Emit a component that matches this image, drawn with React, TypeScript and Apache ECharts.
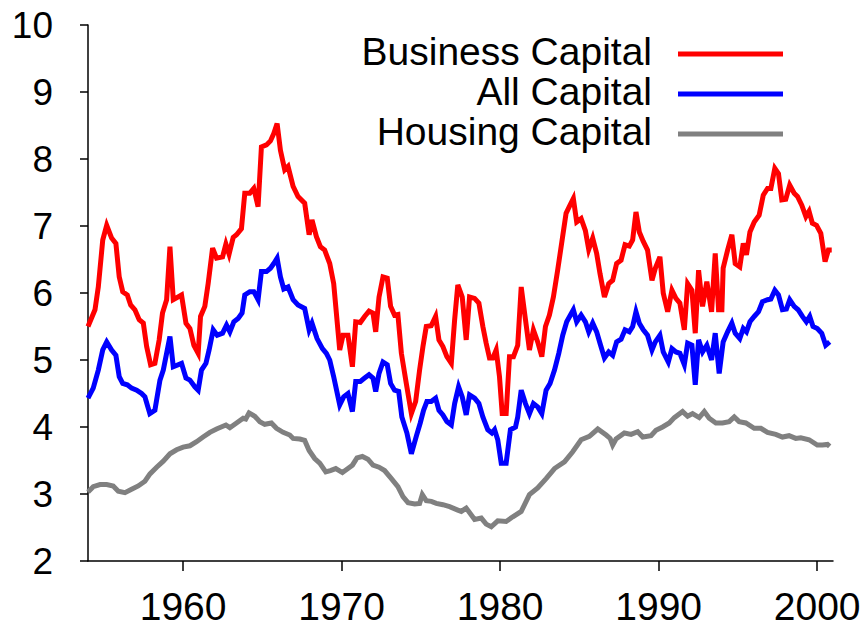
import React, { useEffect, useRef } from "react";
import * as echarts from "echarts";

// [year, value] pairs
const businessCapital: [number, number][] = [
  [1954.0, 5.5], [1954.44, 5.75], [1954.65, 6.09], [1954.93, 6.79], [1955.18, 7.01], [1955.49, 6.82],
  [1955.76, 6.74], [1955.97, 6.24], [1956.19, 6.02], [1956.48, 5.97], [1956.69, 5.82], [1956.96, 5.75],
  [1957.23, 5.6], [1957.49, 5.55], [1957.7, 5.2], [1957.95, 4.93], [1958.22, 4.95], [1958.49, 5.3],
  [1958.7, 5.7], [1958.96, 5.9], [1959.17, 6.69], [1959.38, 5.9], [1959.9, 5.97], [1960.18, 5.55],
  [1960.43, 5.47], [1960.68, 5.22], [1960.95, 5.1], [1961.1, 5.65], [1961.37, 5.8], [1961.58, 6.14],
  [1961.86, 6.67], [1962.11, 6.52], [1962.49, 6.54], [1962.7, 6.73], [1962.9, 6.58], [1963.16, 6.83],
  [1963.37, 6.87], [1963.68, 6.96], [1963.89, 7.49], [1964.21, 7.49], [1964.46, 7.56], [1964.73, 7.29],
  [1964.94, 8.18], [1965.26, 8.21], [1965.51, 8.27], [1965.72, 8.38], [1965.93, 8.53], [1966.14, 8.13],
  [1966.41, 7.84], [1966.62, 7.89], [1966.94, 7.59], [1967.25, 7.44], [1967.67, 7.34], [1967.95, 6.87],
  [1968.13, 7.09], [1968.41, 6.84], [1968.66, 6.69], [1968.93, 6.64], [1969.25, 6.44], [1969.5, 6.14],
  [1969.88, 5.15], [1970.09, 5.37], [1970.4, 5.37], [1970.68, 4.9], [1970.89, 5.57], [1971.18, 5.56],
  [1971.45, 5.65], [1971.73, 5.73], [1971.98, 5.7], [1972.15, 5.42], [1972.36, 5.94], [1972.61, 6.24],
  [1972.88, 6.22], [1973.09, 5.8], [1973.34, 5.67], [1973.55, 5.68], [1973.77, 5.1], [1974.08, 4.65],
  [1974.4, 4.2], [1974.67, 4.38], [1974.92, 4.85], [1975.13, 5.2], [1975.34, 5.5], [1975.65, 5.51],
  [1975.93, 5.65], [1976.14, 5.3], [1976.39, 5.2], [1976.64, 5.05], [1976.92, 4.95], [1977.13, 5.6],
  [1977.33, 6.12], [1977.61, 5.94], [1977.86, 5.3], [1978.07, 5.94], [1978.39, 5.92], [1978.66, 5.85],
  [1978.91, 5.5], [1979.12, 5.25], [1979.33, 5.03], [1979.54, 5.03], [1979.75, 5.15], [1979.96, 4.75],
  [1980.13, 4.2], [1980.38, 4.2], [1980.59, 5.05], [1980.84, 5.05], [1981.11, 5.22], [1981.33, 6.09],
  [1981.6, 5.6], [1981.85, 5.15], [1982.1, 5.45], [1982.37, 5.27], [1982.63, 5.05], [1982.86, 5.5],
  [1983.11, 5.67], [1983.36, 5.94], [1983.63, 6.34], [1983.91, 6.79], [1984.16, 7.19], [1984.41, 7.31],
  [1984.62, 7.41], [1984.83, 7.06], [1985.11, 7.11], [1985.38, 6.93], [1985.59, 6.65], [1985.84, 6.82],
  [1986.09, 6.59], [1986.3, 6.29], [1986.58, 5.94], [1986.85, 6.14], [1987.1, 6.19], [1987.35, 6.44],
  [1987.63, 6.49], [1987.88, 6.72], [1988.15, 6.7], [1988.36, 6.79], [1988.57, 7.21], [1988.78, 6.91],
  [1989.03, 6.77], [1989.3, 6.64], [1989.58, 6.19], [1989.79, 6.37], [1990.08, 6.54], [1990.29, 6.0],
  [1990.57, 5.72], [1990.84, 6.04], [1991.09, 5.92], [1991.34, 5.85], [1991.62, 5.45], [1991.83, 6.14],
  [1992.1, 6.04], [1992.31, 5.4], [1992.52, 6.34], [1992.77, 5.8], [1993.04, 6.17], [1993.34, 5.72],
  [1993.57, 6.59], [1993.78, 5.75], [1993.99, 5.75], [1994.07, 6.37], [1994.35, 6.64], [1994.62, 6.87],
  [1994.83, 6.44], [1995.12, 6.39], [1995.34, 6.74], [1995.54, 6.57], [1995.76, 6.91], [1996.03, 7.06],
  [1996.34, 7.16], [1996.6, 7.46], [1996.87, 7.56], [1997.08, 7.56], [1997.33, 7.86], [1997.56, 7.78],
  [1997.77, 7.39], [1998.02, 7.4], [1998.27, 7.61], [1998.55, 7.49], [1998.76, 7.44], [1999.03, 7.31],
  [1999.29, 7.14], [1999.49, 7.22], [1999.7, 7.04], [1999.96, 7.01], [2000.23, 6.89], [2000.5, 6.47],
  [2000.71, 6.64], [2000.92, 6.64],
];

const allCapital: [number, number][] = [
  [1954.0, 4.43], [1954.33, 4.58], [1954.65, 4.85], [1954.93, 5.15], [1955.18, 5.27], [1955.49, 5.15],
  [1955.76, 5.07], [1955.97, 4.75], [1956.19, 4.65], [1956.48, 4.63], [1956.75, 4.58], [1957.07, 4.55],
  [1957.38, 4.5], [1957.59, 4.45], [1957.9, 4.2], [1958.22, 4.25], [1958.54, 4.7], [1958.75, 4.85],
  [1959.17, 5.35], [1959.38, 4.9], [1959.9, 4.95], [1960.18, 4.73], [1960.43, 4.7], [1960.74, 4.6],
  [1960.95, 4.55], [1961.16, 4.85], [1961.44, 4.95], [1961.64, 5.15], [1961.9, 5.45], [1962.15, 5.37],
  [1962.49, 5.4], [1962.74, 5.52], [1962.95, 5.42], [1963.2, 5.57], [1963.47, 5.62], [1963.72, 5.7],
  [1963.89, 5.97], [1964.21, 6.02], [1964.46, 6.02], [1964.73, 5.9], [1964.94, 6.32], [1965.26, 6.32],
  [1965.51, 6.37], [1965.72, 6.44], [1965.93, 6.52], [1966.14, 6.24], [1966.35, 6.06], [1966.62, 6.09],
  [1966.94, 5.9], [1967.25, 5.82], [1967.67, 5.77], [1967.95, 5.45], [1968.13, 5.55], [1968.45, 5.32],
  [1968.79, 5.17], [1969.04, 5.1], [1969.25, 5.0], [1969.5, 4.75], [1969.88, 4.33], [1970.13, 4.45],
  [1970.4, 4.5], [1970.68, 4.23], [1970.89, 4.68], [1971.18, 4.68], [1971.45, 4.73], [1971.73, 4.78],
  [1971.98, 4.73], [1972.15, 4.53], [1972.36, 4.8], [1972.61, 4.97], [1972.88, 4.93], [1973.09, 4.65],
  [1973.34, 4.55], [1973.6, 4.53], [1973.8, 4.15], [1974.12, 3.91], [1974.4, 3.6], [1974.71, 3.86],
  [1974.96, 4.06], [1975.17, 4.25], [1975.38, 4.38], [1975.65, 4.38], [1975.93, 4.43], [1976.14, 4.25],
  [1976.39, 4.18], [1976.64, 4.08], [1976.92, 4.03], [1977.13, 4.35], [1977.38, 4.6], [1977.61, 4.45],
  [1977.86, 4.18], [1978.07, 4.48], [1978.39, 4.43], [1978.66, 4.35], [1978.91, 4.15], [1979.22, 3.96],
  [1979.48, 3.91], [1979.65, 3.96], [1979.85, 3.81], [1980.07, 3.46], [1980.38, 3.46], [1980.65, 3.96],
  [1980.97, 4.0], [1981.11, 4.15], [1981.33, 4.55], [1981.6, 4.35], [1981.85, 4.2], [1982.1, 4.35],
  [1982.37, 4.3], [1982.63, 4.2], [1982.9, 4.55], [1983.15, 4.65], [1983.43, 4.85], [1983.7, 5.1],
  [1983.95, 5.37], [1984.2, 5.57], [1984.41, 5.66], [1984.62, 5.75], [1984.83, 5.57], [1985.11, 5.67],
  [1985.38, 5.57], [1985.59, 5.42], [1985.84, 5.55], [1986.09, 5.42], [1986.3, 5.25], [1986.58, 5.03],
  [1986.85, 5.12], [1987.1, 5.07], [1987.35, 5.27], [1987.63, 5.31], [1987.88, 5.45], [1988.15, 5.42],
  [1988.36, 5.5], [1988.57, 5.72], [1988.78, 5.55], [1989.03, 5.45], [1989.3, 5.37], [1989.58, 5.15],
  [1989.79, 5.27], [1990.08, 5.37], [1990.29, 5.12], [1990.61, 4.97], [1990.84, 5.17], [1991.09, 5.12],
  [1991.34, 5.1], [1991.62, 4.93], [1991.83, 5.25], [1992.1, 5.22], [1992.31, 4.63], [1992.52, 5.3],
  [1992.77, 5.12], [1993.04, 5.22], [1993.34, 5.0], [1993.57, 5.4], [1993.82, 4.8], [1994.07, 5.27],
  [1994.35, 5.42], [1994.62, 5.55], [1994.83, 5.4], [1995.12, 5.32], [1995.34, 5.47], [1995.54, 5.42],
  [1995.76, 5.57], [1996.03, 5.65], [1996.3, 5.72], [1996.55, 5.87], [1996.87, 5.9], [1997.08, 5.91],
  [1997.33, 6.04], [1997.56, 5.97], [1997.81, 5.75], [1998.06, 5.76], [1998.27, 5.9], [1998.55, 5.8],
  [1998.8, 5.75], [1999.07, 5.65], [1999.32, 5.57], [1999.53, 5.65], [1999.74, 5.5], [2000.01, 5.47],
  [2000.29, 5.4], [2000.54, 5.22], [2000.79, 5.27],
];

const housingCapital: [number, number][] = [
  [1954.0, 3.03], [1954.33, 3.11], [1954.76, 3.14], [1955.18, 3.14], [1955.59, 3.12], [1955.91, 3.04],
  [1956.33, 3.02], [1956.75, 3.07], [1957.17, 3.12], [1957.59, 3.19], [1957.91, 3.3], [1958.33, 3.4],
  [1958.75, 3.49], [1959.17, 3.6], [1959.59, 3.66], [1960.0, 3.7], [1960.43, 3.72], [1960.85, 3.78],
  [1961.26, 3.85], [1961.69, 3.92], [1962.11, 3.97], [1962.7, 4.03], [1962.95, 3.99], [1963.37, 4.06],
  [1963.79, 4.13], [1963.95, 4.12], [1964.16, 4.21], [1964.52, 4.16], [1964.84, 4.08], [1965.15, 4.04],
  [1965.57, 4.06], [1965.89, 3.98], [1966.31, 3.92], [1966.73, 3.88], [1966.94, 3.83], [1967.36, 3.82],
  [1967.67, 3.8], [1967.95, 3.65], [1968.3, 3.53], [1968.62, 3.46], [1969.0, 3.33], [1969.29, 3.35],
  [1969.63, 3.38], [1970.05, 3.32], [1970.4, 3.38], [1970.68, 3.43], [1970.97, 3.54], [1971.31, 3.56],
  [1971.66, 3.52], [1971.98, 3.43], [1972.36, 3.4], [1972.71, 3.35], [1973.14, 3.23], [1973.55, 3.11],
  [1973.87, 2.96], [1974.19, 2.87], [1974.61, 2.85], [1974.92, 2.86], [1975.09, 2.99], [1975.34, 2.9],
  [1975.66, 2.89], [1975.97, 2.86], [1976.39, 2.84], [1976.81, 2.81], [1977.33, 2.76], [1977.55, 2.74],
  [1977.86, 2.79], [1978.39, 2.62], [1978.81, 2.64], [1979.12, 2.55], [1979.44, 2.51], [1979.85, 2.6],
  [1980.38, 2.59], [1980.8, 2.66], [1981.33, 2.74], [1981.85, 2.99], [1982.37, 3.09], [1982.9, 3.23],
  [1983.43, 3.38], [1984.06, 3.48], [1984.58, 3.63], [1985.11, 3.81], [1985.63, 3.86], [1986.16, 3.97],
  [1986.69, 3.88], [1986.94, 3.83], [1987.1, 3.73], [1987.31, 3.82], [1987.84, 3.91], [1988.26, 3.89],
  [1988.68, 3.93], [1989.0, 3.85], [1989.52, 3.87], [1989.83, 3.95], [1990.25, 4.0], [1990.67, 4.06],
  [1990.99, 4.14], [1991.51, 4.23], [1991.83, 4.16], [1992.14, 4.2], [1992.56, 4.14], [1992.88, 4.23],
  [1993.19, 4.13], [1993.61, 4.06], [1994.03, 4.06], [1994.45, 4.08], [1994.77, 4.15], [1995.08, 4.08],
  [1995.5, 4.06], [1996.03, 3.98], [1996.45, 3.98], [1996.87, 3.92], [1997.39, 3.89], [1997.81, 3.85],
  [1998.23, 3.87], [1998.65, 3.83], [1998.97, 3.84], [1999.49, 3.81], [2000.01, 3.73], [2000.33, 3.73],
  [2000.65, 3.74], [2000.79, 3.71],
];

const xTickValues = [1960, 1970, 1980, 1990, 2000];
const seriesNames = ["Business Capital", "All Capital", "Housing Capital"];
const seriesColors = ["#ff0000", "#0000ff", "#808080"];

const FONT = "'Liberation Sans', Arial, Helvetica, sans-serif";

export default function App() {
  const ref = useRef<HTMLDivElement>(null);

  useEffect(() => {
    if (!ref.current) return;
    const chart = echarts.init(ref.current, undefined, { renderer: "svg" });
    const datasets = [businessCapital, allCapital, housingCapital];

    const legendGraphics: any[] = [];
    seriesNames.forEach((name, i) => {
      const y = 54 + i * 40;
      legendGraphics.push({
        type: "text",
        right: 868 - 652,
        top: y - 22,
        style: {
          text: name,
          fill: "#000",
          font: `39px ${FONT}`,
          textAlign: "right",
          textVerticalAlign: "top",
        },
      });
      legendGraphics.push({
        type: "line",
        shape: { x1: 678, y1: y, x2: 783, y2: y },
        style: { stroke: seriesColors[i], lineWidth: 5 },
      });
    });

    chart.setOption({
      animation: false,
      backgroundColor: "#ffffff",
      grid: { left: 88, right: 35, top: 25, bottom: 68, containLabel: false },
      xAxis: {
        type: "value",
        min: 1954,
        max: 2001,
        axisLine: { show: true, onZero: false, lineStyle: { color: "#000", width: 1.5 } },
        axisTick: {
          show: true,
          customValues: xTickValues,
          length: 10,
          lineStyle: { color: "#000", width: 1.5 },
        },
        axisLabel: {
          customValues: xTickValues,
          formatter: (v: number) => String(v),
          color: "#000",
          fontSize: 39,
          fontFamily: FONT,
          margin: 26,
        },
        splitLine: { show: false },
      },
      yAxis: {
        type: "value",
        min: 2,
        max: 10,
        interval: 1,
        axisLine: { show: true, lineStyle: { color: "#000", width: 1.5 } },
        axisTick: { show: true, length: 8, lineStyle: { color: "#000", width: 1.5 } },
        axisLabel: { color: "#000", fontSize: 37, fontFamily: FONT, margin: 35 },
        splitLine: { show: false },
      },
      series: datasets
        .map((d, i) => ({
          name: seriesNames[i],
          type: "line",
          data: d,
          showSymbol: false,
          symbol: "none",
          lineStyle: { color: seriesColors[i], width: 5, join: "miter" },
          itemStyle: { color: seriesColors[i] },
          z: 3 - i,
        }))
        .reverse(),
      graphic: legendGraphics,
    });

    return () => chart.dispose();
  }, []);

  return (
    <div
      ref={ref}
      style={{ position: "fixed", left: 0, top: 0, width: 868, height: 629, background: "#fff" }}
    />
  );
}
